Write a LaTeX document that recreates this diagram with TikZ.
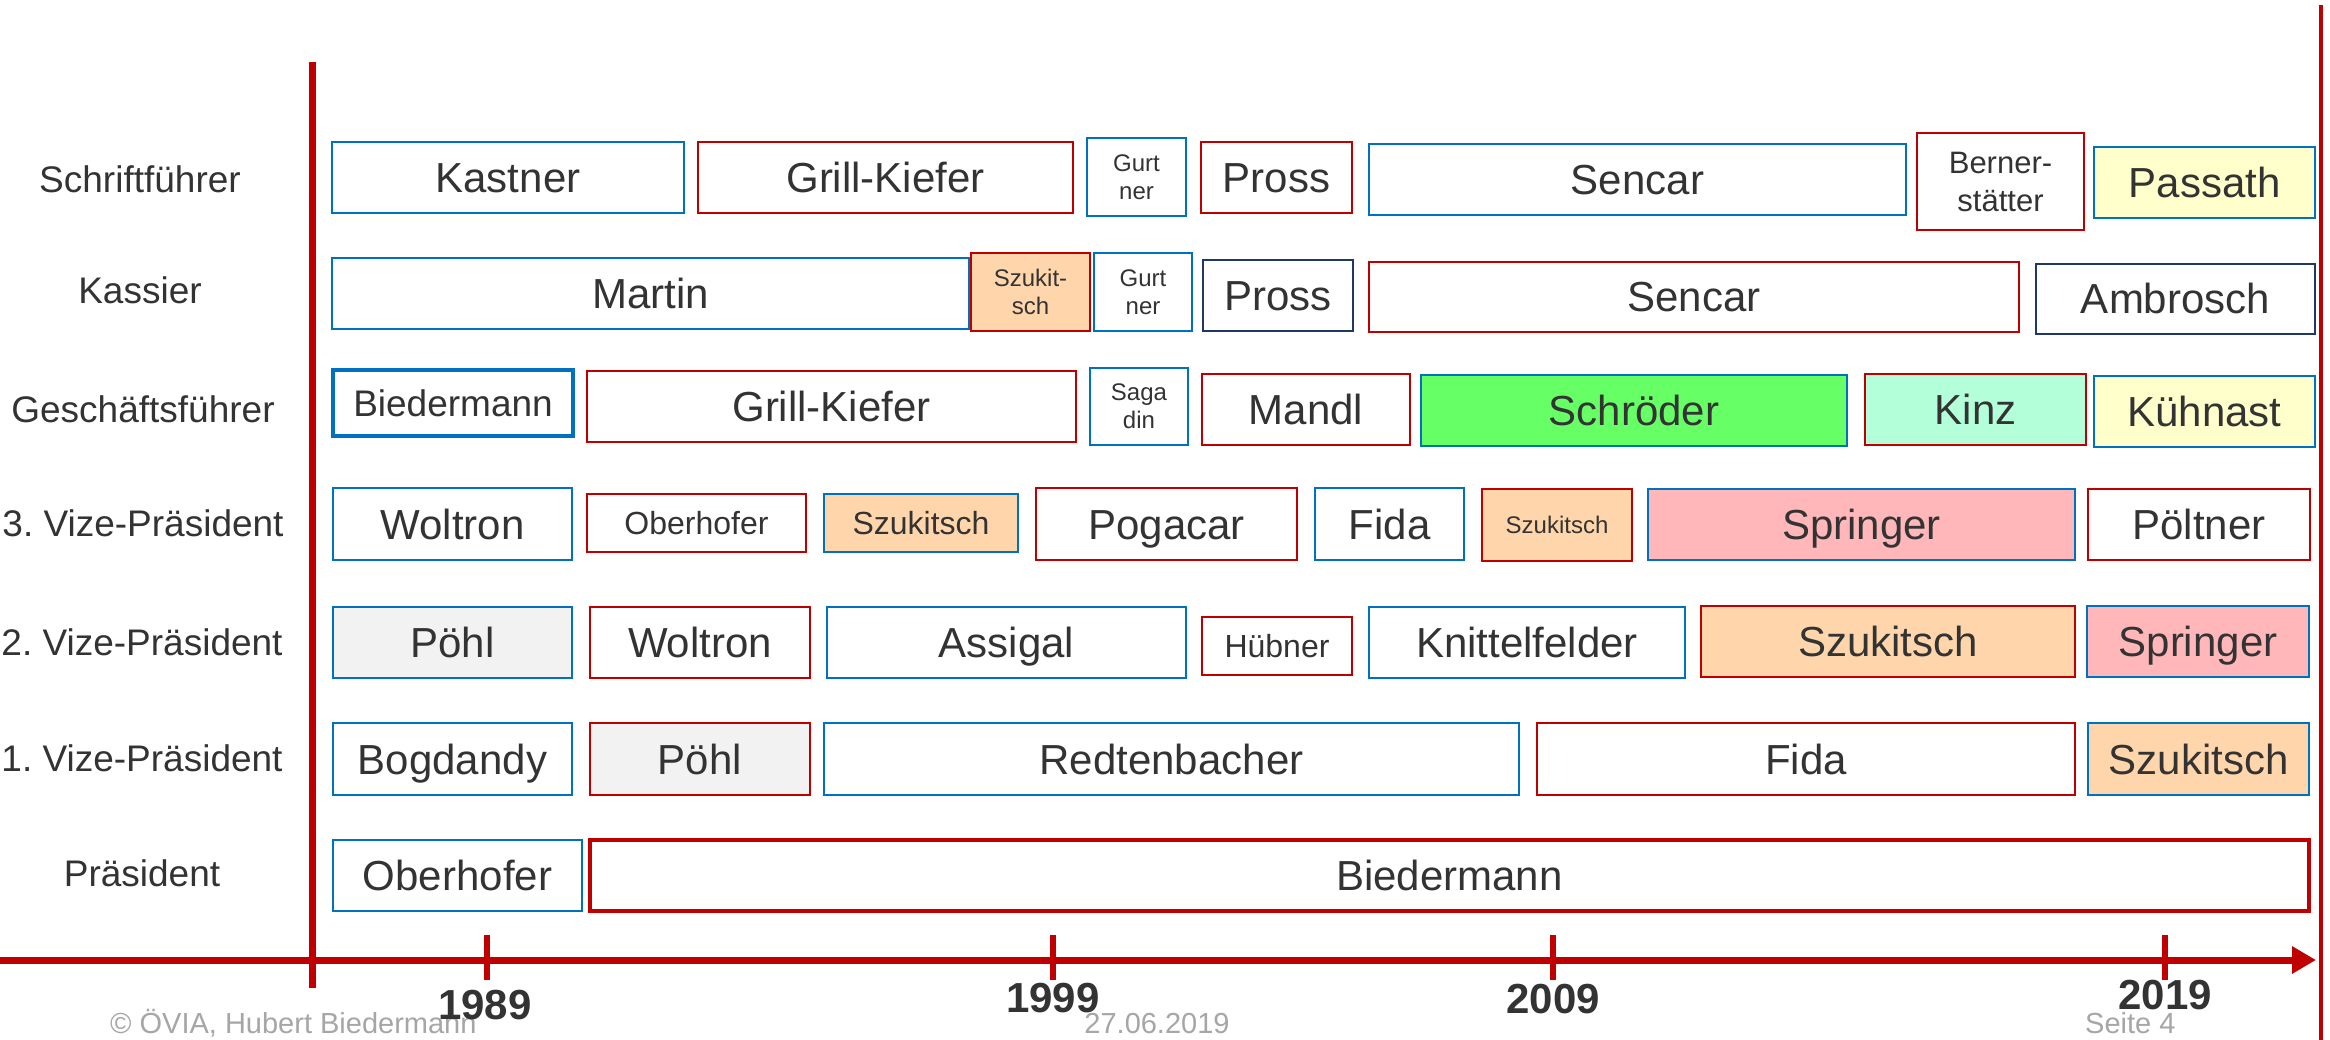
\documentclass[tikz,border=0pt]{standalone}
\usepackage{fontspec}
\setmainfont{Liberation Sans}
\usetikzlibrary{arrows.meta}
\frenchspacing

\definecolor{ink}{HTML}{333333}
\definecolor{footgrey}{HTML}{A6A6A6}
\definecolor{bblue}{HTML}{0070C0}
\definecolor{bred}{HTML}{C00000}
\definecolor{bnavy}{HTML}{1F3864}
\definecolor{axisred}{HTML}{C00000}
\definecolor{peach}{HTML}{FFD6AB}
\definecolor{pinkfill}{HTML}{FFB7BA}
\definecolor{greenfill}{HTML}{66FF66}
\definecolor{mintfill}{HTML}{B3FFD9}
\definecolor{yellowfill}{HTML}{FFFFCC}
\definecolor{greyfill}{HTML}{F2F2F2}

% one term of office: name, x1, y1, x2, y2, style, text
\newcommand\tbox[7]{%
  \node[#6, minimum width={(#4-#2)*1pt}, minimum height={(#5-#3)*1pt}]
    (#1) at ({(#2+#4)/2},{(#3+#5)/2}) {#7};}

\tikzset{
  box/.style={draw, inner sep=0pt, outer sep=0pt, line width=2pt, text=ink, fill=white},
  bb/.style={box, draw=bblue},
  rb/.style={box, draw=bred},
  nb/.style={box, draw=bnavy},
  t42/.style={font=\fontsize{42}{50}\selectfont, text height=30pt, text depth=0pt},
  t37/.style={font=\fontsize{37}{44}\selectfont, text height=26.5pt, text depth=0pt},
  t32/.style={font=\fontsize{32}{38}\selectfont, text height=23pt, text depth=0pt},
  t24/.style={font=\fontsize{24}{29}\selectfont, text height=17pt, text depth=0pt},
  two24/.style={font=\fontsize{24}{28}\selectfont, align=center},
  two31/.style={font=\fontsize{31}{38}\selectfont, align=center},
  thick box/.style={line width=4.5pt},
  rolelabel/.style={text=ink, font=\fontsize{37}{44}\selectfont, text height=26.5pt,
    text depth=0pt, inner sep=0pt},
  yearlabel/.style={text=ink, font=\fontsize{42}{50}\selectfont\bfseries, text height=30pt,
    text depth=0pt, inner sep=0pt},
  foot/.style={text=footgrey, font=\fontsize{29}{35}\selectfont, inner sep=0pt},
  axisline/.style={draw=axisred, line width=7pt},
  tickline/.style={draw=axisred, line width=6pt},
}

\begin{document}
\begin{tikzpicture}[x=1pt, y=-1pt]
\useasboundingbox[fill=white] (0,0) rectangle (2330,1040);

% role labels
\node[rolelabel] (lSchrift) at (140,179) {Schriftführer};
\node[rolelabel] (lKassier) at (140,290) {Kassier};
\node[rolelabel] (lGF)      at (143,409) {Geschäftsführer};
\node[rolelabel] (lVP3)     at (143,523) {3. Vize-Präsident};
\node[rolelabel] (lVP2)     at (142,642) {2. Vize-Präsident};
\node[rolelabel] (lVP1)     at (142,758) {1. Vize-Präsident};
\node[rolelabel] (lPraes)   at (142,873) {Präsident};

% Schriftführer
\tbox{s1}{332}{142}{684}{213}{bb,t42}{Kastner}
\tbox{s2}{698}{142}{1073}{213}{rb,t42}{Grill-Kiefer}
\tbox{s3}{1087}{138}{1186}{216}{bb,two24}{Gurt\\ner}
\tbox{s4}{1201}{142}{1352}{213}{rb,t42}{Pross}
\tbox{s5}{1369}{144}{1906}{215}{bb,t42}{Sencar}
\tbox{s6}{1917}{133}{2084}{230}{rb,two31}{Berner-\\stätter}
\tbox{s7}{2094}{147}{2315}{218}{bb,t42,fill=yellowfill}{Passath}

% Kassier
\tbox{k1}{332}{258}{969}{329}{bb,t42}{Martin}
\tbox{k2}{971}{253}{1090}{331}{rb,two24,fill=peach}{Szukit-\\sch}
\tbox{k3}{1094}{253}{1192}{331}{bb,two24}{Gurt\\ner}
\tbox{k4}{1203}{260}{1353}{331}{nb,t42}{Pross}
\tbox{k5}{1369}{262}{2019}{332}{rb,t42}{Sencar}
\tbox{k6}{2036}{264}{2315}{334}{nb,t42}{Ambrosch}

% Geschäftsführer
\tbox{g1}{333}{370}{573}{436}{bb,t37,thick box}{Biedermann}
\tbox{g2}{587}{371}{1076}{442}{rb,t42}{Grill-Kiefer}
\tbox{g3}{1090}{368}{1188}{445}{bb,two24}{Saga\\din}
\tbox{g4}{1202}{374}{1410}{445}{rb,t42}{Mandl}
\tbox{g5}{1421}{375}{1847}{446}{bb,t42,fill=greenfill}{Schröder}
\tbox{g6}{1865}{374}{2086}{445}{rb,t42,fill=mintfill}{Kinz}
\tbox{g7}{2094}{376}{2315}{447}{bb,t42,fill=yellowfill}{Kühnast}

% 3. Vize-Präsident
\tbox{c1}{333}{488}{572}{560}{bb,t42}{Woltron}
\tbox{c2}{587}{494}{806}{552}{rb,t32}{Oberhofer}
\tbox{c3}{824}{494}{1018}{552}{bb,t32,fill=peach}{Szukitsch}
\tbox{c4}{1036}{488}{1297}{560}{rb,t42}{Pogacar}
\tbox{c5}{1315}{488}{1464}{560}{bb,t42}{Fida}
\tbox{c6}{1482}{489}{1632}{561}{rb,t24,fill=peach}{Szukitsch}
\tbox{c7}{1648}{489}{2075}{560}{bb,t42,fill=pinkfill}{Springer}
\tbox{c8}{2088}{489}{2310}{560}{rb,t42}{Pöltner}

% 2. Vize-Präsident
\tbox{b1}{333}{607}{572}{678}{bb,t42,fill=greyfill}{Pöhl}
\tbox{b2}{590}{607}{810}{678}{rb,t42}{Woltron}
\tbox{b3}{827}{607}{1186}{678}{bb,t42}{Assigal}
\tbox{b4}{1202}{617}{1352}{675}{rb,t32}{Hübner}
\tbox{b5}{1369}{607}{1685}{678}{bb,t42}{Knittelfelder}
\tbox{b6}{1701}{606}{2075}{677}{rb,t42,fill=peach}{Szukitsch}
\tbox{b7}{2087}{606}{2309}{677}{bb,t42,fill=pinkfill}{Springer}

% 1. Vize-Präsident
\tbox{a1}{333}{723}{572}{795}{bb,t42}{Bogdandy}
\tbox{a2}{590}{723}{810}{795}{rb,t42,fill=greyfill}{Pöhl}
\tbox{a3}{824}{723}{1519}{795}{bb,t42}{Redtenbacher}
\tbox{a4}{1537}{723}{2075}{795}{rb,t42}{Fida}
\tbox{a5}{2088}{723}{2309}{795}{bb,t42,fill=peach}{Szukitsch}

% Präsident
\tbox{p1}{333}{840}{582}{911}{bb,t42}{Oberhofer}
\tbox{p2}{590}{840}{2309}{911}{rb,t42,thick box}{Biedermann}

% axes
\coordinate (vTop) at (312,62);
\coordinate (vBot) at (312,988);
\coordinate (hStart) at (0,960);
\coordinate (hEnd) at (2316,960);
\coordinate (rTop) at (2321,5);
\coordinate (rBot) at (2321,1040);
\draw[axisline] (vTop) -- (vBot);
\draw[axisline, -{Triangle[length=24pt,width=26pt]}] (hStart) -- (hEnd);
\draw[draw=axisred, line width=4pt] (rTop) -- (rBot);

% year ticks
\foreach \tx/\tn in {487/t89, 1053/t99, 1553/t09, 2165/t19} {
  \coordinate (\tn a) at (\tx,935);
  \coordinate (\tn b) at (\tx,980);
  \draw[tickline] (\tn a) -- (\tn b);
}

% footer
\node[foot, anchor=base west] (fCopy) at (110,1033) {© ÖVIA, Hubert Biedermann};
\node[foot, anchor=base] (fDate) at (1157,1033) {27.06.2019};
\node[foot, anchor=base west] (fPage) at (2085,1033) {Seite 4};

% year labels
\node[yearlabel] (y1989) at (485,1004) {1989};
\node[yearlabel] (y1999) at (1053,997) {1999};
\node[yearlabel] (y2009) at (1553,998) {2009};
\node[yearlabel] (y2019) at (2165,994) {2019};
\end{tikzpicture}
\end{document}
